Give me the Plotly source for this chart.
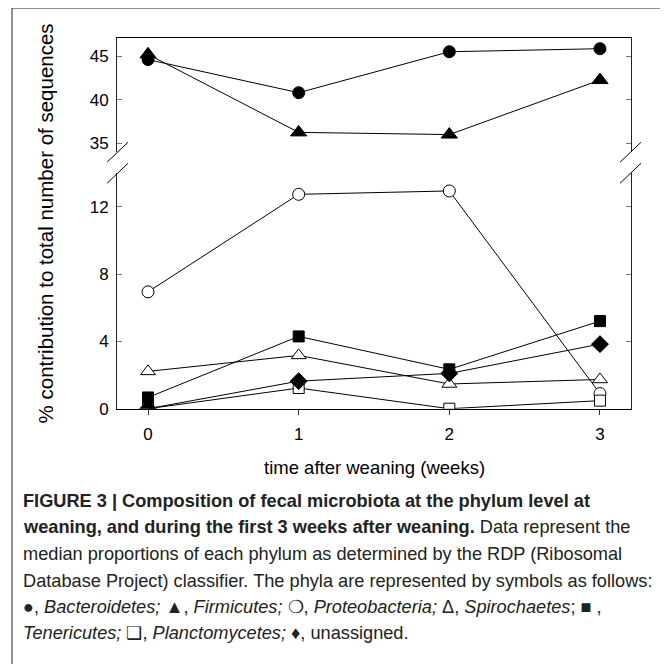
import plotly.graph_objects as go

# figure is placed inside the page body (8px default margin), so work in
# window pixel coordinates and convert
W, H = 660, 656
OFF = 8
VS = 0.983  # empirical vertical correction
weeks = [0, 1, 2, 3]

bacteroidetes = [44.6, 40.8, 45.5, 45.85]
firmicutes = [45.2, 36.25, 36.0, 42.25]
proteobacteria = [6.95, 12.75, 12.95, 0.9]
spirochaetes = [2.22, 3.17, 1.47, 1.74]
tenericutes = [0.67, 4.3, 2.34, 5.21]
planctomycetes = [0.0, 1.23, 0.0, 0.48]
unassigned = [0.0, 1.64, 2.1, 3.84]

upper_ticks = [35, 40, 45]
lower_ticks = [0, 4, 8, 12]

caption_lines = [
    "<b>FIGURE 3 | Composition of fecal microbiota at the phylum level at</b>",
    "<b>weaning, and during the first 3 weeks after weaning.</b> Data represent the",
    "median proportions of each phylum as determined by the RDP (Ribosomal",
    "Database Project) classifier. The phyla are represented by symbols as follows:",
    "●, <i>Bacteroidetes;</i> ▲, <i>Firmicutes;</i> ❍, <i>Proteobacteria;</i> Δ, <i>Spirochaetes</i>; ■ ,",
    "<i>Tenericutes;</i> ❑, <i>Planctomycetes;</i> ♦, unassigned.",
]


def px(x):
    return (x - OFF) / W


def py(y):
    y = OFF + (y - OFF) / VS
    return 1 - (y - OFF) / H


fig = go.Figure()


def add(name, vals, symbol, fill, size, upper):
    fig.add_trace(go.Scatter(
        x=weeks, y=vals, name=name, mode="lines+markers",
        line=dict(color="black", width=1),
        marker=dict(symbol=symbol, color=fill, size=size,
                    line=dict(color="black", width=1)),
        xaxis="x2" if upper else "x", yaxis="y2" if upper else "y",
        showlegend=False))


add("Proteobacteria", proteobacteria, "circle", "white", 12, False)
add("Spirochaetes", spirochaetes, "triangle-up", "white", 13, False)
add("Planctomycetes", planctomycetes, "square", "white", 11, False)
add("Tenericutes", tenericutes, "square", "black", 11, False)
add("unassigned", unassigned, "diamond", "black", 13, False)
add("Firmicutes", firmicutes, "triangle-up", "black", 14, True)
add("Bacteroidetes", bacteroidetes, "circle", "black", 12, True)

xdom = [px(117), px(631)]
sans = "Liberation Sans, Arial, sans-serif"
tickfont = dict(family=sans, size=17, color="black")

fig.update_layout(
    width=W, height=H, margin=dict(l=0, r=0, t=0, b=0),
    paper_bgcolor="white", plot_bgcolor="white",
    xaxis=dict(domain=xdom, range=[-0.206, 3.206], tickvals=weeks,
               ticks="outside", ticklen=5, tickcolor="#333", showline=True,
               linecolor="black", linewidth=1, showgrid=False, zeroline=False,
               anchor="y", tickfont=tickfont, ticklabelstandoff=5),
    xaxis2=dict(domain=xdom, range=[-0.206, 3.206], matches="x", side="top",
                anchor="y2", showline=True, linecolor="black", linewidth=1,
                showticklabels=False, ticks="", showgrid=False, zeroline=False),
    yaxis=dict(domain=[py(408), py(173)], range=[0, 14], tickvals=lower_ticks,
               ticks="inside", ticklen=5, tickcolor="#777", showline=True,
               linecolor="#222", linewidth=1, mirror="ticks", showgrid=False,
               zeroline=False, anchor="x", tickfont=tickfont, ticklabelstandoff=4),
    yaxis2=dict(domain=[py(152), py(38)], range=[33.97, 47.07], tickvals=upper_ticks,
                ticks="inside", ticklen=5, tickcolor="#777", showline=True,
                linecolor="#222", linewidth=1, mirror="ticks", showgrid=False,
                zeroline=False, anchor="x2", tickfont=tickfont, ticklabelstandoff=4),
)

# axis break marks
for xa, xb in [(107, 128), (620, 641)]:
    for ya, yb in [(162, 142), (183, 163)]:
        fig.add_shape(type="line", xref="paper", yref="paper",
                      x0=px(xa), y0=py(ya), x1=px(xb), y1=py(yb),
                      line=dict(color="black", width=1))

# outer frame
fig.add_shape(type="rect", xref="paper", yref="paper",
              x0=px(12), y0=py(690), x1=px(665), y1=py(8),
              line=dict(color="#222", width=1), fillcolor="rgba(0,0,0,0)")

fig.add_annotation(text="% contribution to total number of sequences",
                   x=px(45), y=py(223), xref="paper", yref="paper",
                   xanchor="center", yanchor="middle",
                   textangle=-90, showarrow=False,
                   font=dict(family=sans, size=20.5, color="black"))
fig.add_annotation(text="time after weaning (weeks)",
                   x=px(374), y=py(467), xref="paper", yref="paper",
                   xanchor="center", yanchor="middle", showarrow=False,
                   font=dict(family=sans, size=18.5, color="black"))

line_y = [500, 526.5, 553, 579.5, 606, 632]
for txt, yy in zip(caption_lines, line_y):
    fig.add_annotation(text=txt, x=px(21), y=py(yy), xref="paper", yref="paper",
                       xanchor="left", yanchor="middle", align="left", showarrow=False,
                       font=dict(family=sans, size=18.2, color="#222"))

fig.write_html("out.html")
